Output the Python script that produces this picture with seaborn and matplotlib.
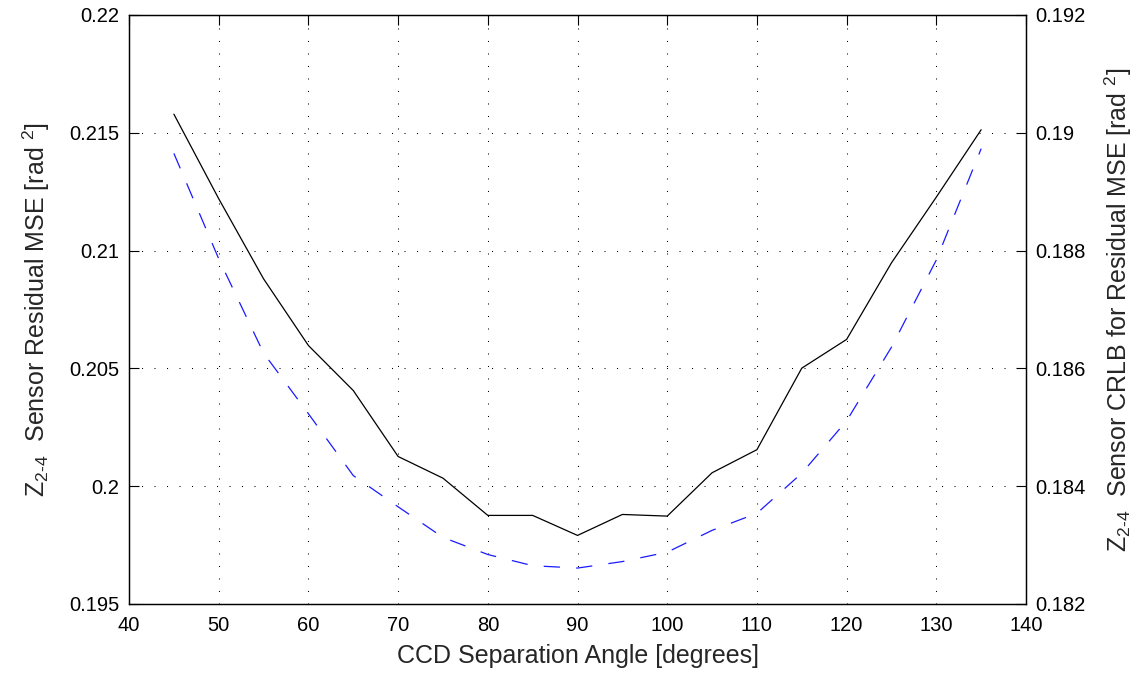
import matplotlib
matplotlib.use("Agg")
import matplotlib.pyplot as plt
import seaborn as sns
import pandas as pd

# CCD separation angle sweep (degrees)
angle = [45, 50, 55, 60, 65, 70, 75, 80, 85, 90, 95, 100, 105, 110, 115, 120, 125, 130, 135]

# Simulated residual MSE (left axis)
residual_mse = [0.21579, 0.2122, 0.2088, 0.20597, 0.20406, 0.20126, 0.20034, 0.19876, 0.19876,
                0.19791, 0.19880, 0.19873, 0.20057, 0.20155, 0.20501, 0.20623, 0.20948, 0.21227,
                0.21513]

# Cramer-Rao lower bound (right axis)
crlb_mse = [0.18965, 0.18786, 0.18626, 0.18523, 0.18418, 0.18365, 0.18313, 0.18284, 0.18265,
            0.18261, 0.18272, 0.18288, 0.18325, 0.18354, 0.18422, 0.18511, 0.18636, 0.18784,
            0.18973]

x_ticks = [40, 50, 60, 70, 80, 90, 100, 110, 120, 130, 140]
left_ticks = [0.195, 0.2, 0.205, 0.21, 0.215, 0.22]
left_labels = ["0.195", "0.2", "0.205", "0.21", "0.215", "0.22"]
right_ticks = [0.182, 0.184, 0.186, 0.188, 0.19, 0.192]
right_labels = ["0.182", "0.184", "0.186", "0.188", "0.19", "0.192"]

sns.set_style("white")
plt.rcParams["font.family"] = ["Liberation Sans", "DejaVu Sans"]
plt.rcParams["mathtext.fontset"] = "custom"
plt.rcParams["mathtext.rm"] = "Liberation Sans"
plt.rcParams["mathtext.it"] = "Liberation Sans"
plt.rcParams["mathtext.default"] = "regular"

df = pd.DataFrame({"angle": angle, "mse": residual_mse, "crlb": crlb_mse})

fig = plt.figure(figsize=(11.46, 6.75), dpi=100)
ax = fig.add_axes([0.1126, 0.1052, 0.7827, 0.8726])
ax2 = ax.twinx()

sns.lineplot(data=df, x="angle", y="mse", ax=ax, color="black", linewidth=0.9)
sns.lineplot(data=df, x="angle", y="crlb", ax=ax2, color="#1a1aff", linewidth=0.9,
             dashes=False)
ax2.lines[0].set_dashes((13, 13))

ax.set_xlim(40, 140)
ax.set_ylim(0.195, 0.22)
ax2.set_ylim(0.182, 0.192)
ax.set_xticks(x_ticks)
ax.set_yticks(left_ticks)
ax.set_yticklabels(left_labels)
ax2.set_yticks(right_ticks)
ax2.set_yticklabels(right_labels)

grid_style = dict(color="black", linestyle=(0, (1, 11)), linewidth=0.75)
ax.grid(True, **grid_style)
ax.set_axisbelow(True)

for a in (ax, ax2):
    for s in a.spines.values():
        s.set_visible(True)
        s.set_color("black")
        s.set_linewidth(0.9)

ax.tick_params(axis="both", direction="in", length=7, width=0.8, labelsize=14.5,
               colors="black", pad=7, top=True, right=False)
ax.tick_params(axis="x", pad=9)
ax2.tick_params(axis="y", direction="in", length=7, width=0.8, labelsize=14.5,
                colors="black", pad=7)

ax.set_xlabel("CCD Separation Angle [degrees]", fontsize=18, labelpad=6)
ax.set_ylabel(r"$Z_{2\text{-}4}$  Sensor Residual MSE [rad $^{2}$]", fontsize=18, labelpad=12)
ax2.set_ylabel(r"$Z_{2\text{-}4}$  Sensor CRLB for Residual MSE [rad $^{2}$]", fontsize=18,
               labelpad=12)

fig.savefig("out.png", dpi=100, facecolor="white")
